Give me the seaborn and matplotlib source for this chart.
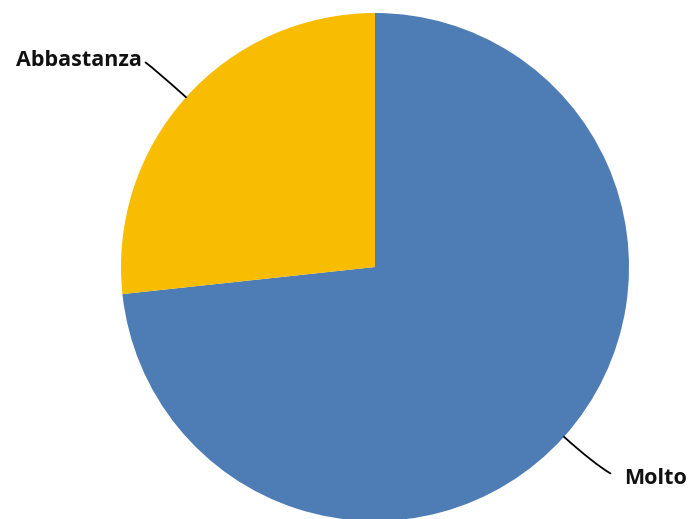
import numpy as np
import matplotlib
matplotlib.use("Agg")
import matplotlib.pyplot as plt
import seaborn as sns

# data
labels = ["Molto", "Abbastanza"]
values = [73.3, 26.7]
colors = ["#4E7CB5", "#F8BC00"]

sns.set_theme(style="white")
plt.rcParams['font.family'] = ['Open Sans', 'DejaVu Sans']

fig = plt.figure(figsize=(6.89, 5.19), dpi=100)
ax = fig.add_axes([0, 0, 1, 1])

wedges, _ = ax.pie(values, colors=colors, startangle=90, counterclock=False,
                   radius=1.0, center=(0, 0), wedgeprops=dict(linewidth=0))

# centre of pie at (375, 267) px, radius 254 px
r_px = 254.0
ax.set_xlim(-375 / r_px, (689 - 375) / r_px)
ax.set_ylim(-(519 - 267) / r_px, 267 / r_px)
ax.set_aspect('equal')
ax.axis('off')

for w, lab in zip(wedges, labels):
    ang = np.deg2rad((w.theta1 + w.theta2) / 2)
    x, y = np.cos(ang), np.sin(ang)
    tx, ty = 1.225 * x, 1.225 * y
    if x > 0:
        xt, yt, ha, gap = tx + 0.068, ty - 0.014, 'left', 8
    else:
        xt, yt, ha, gap = tx - 0.005, ty - 0.006, 'right', 0
    ax.annotate(lab, xy=(1.0 * x, 1.0 * y), xytext=(xt, yt),
                ha=ha, va='center',
                fontsize=15.5, fontweight='bold', color='#111111',
                arrowprops=dict(arrowstyle='-', color='black', lw=1.3,
                                shrinkA=gap, shrinkB=0, relpos=(1, 0.5) if x < 0 else (0, 0.5),
                                connectionstyle=f"angle3,angleA=0,angleB={np.rad2deg(ang):.1f}"))

fig.savefig("out.png", dpi=100)
